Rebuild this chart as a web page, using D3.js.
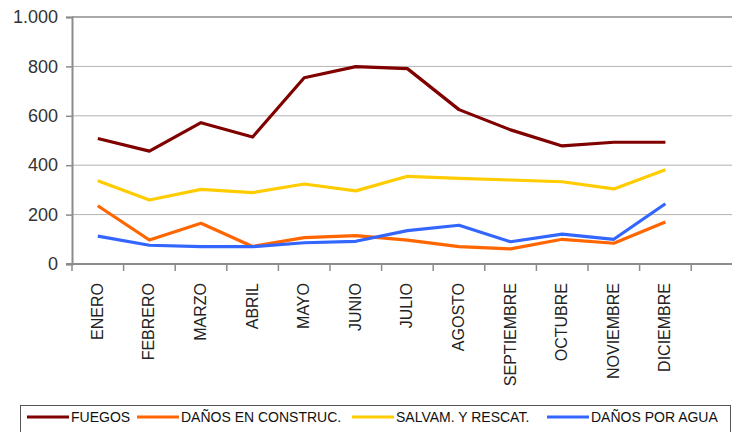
<!DOCTYPE html>
<html>
<head>
<meta charset="utf-8">
<script src="https://cdn.jsdelivr.net/npm/d3@7"></script>
<style>
  body { margin: 0; background: #fff; }
  svg { display: block; font-family: "Liberation Sans", Arial, sans-serif; }
</style>
</head>
<body>
<svg id="chart"></svg>
<script>
const size = { w: 732, h: 432 };
const plot = { l: 72, t: 17, b: 264, step: 51.6 };

// months (plus one empty slot at the end, as in the source chart)
const months = ["ENERO", "FEBRERO", "MARZO", "ABRIL", "MAYO", "JUNIO", "JULIO",
	"AGOSTO", "SEPTIEMBRE", "OCTUBRE", "NOVIEMBRE", "DICIEMBRE"];
const yTicks = [0, 200, 400, 600, 800, 1000];

const fuegos = [508, 457, 572, 514, 754, 799, 791, 625, 543, 478, 493, 493];
const construc = [236, 97, 165, 71, 107, 115, 97, 70, 61, 100, 84, 170];
const salvam = [337, 259, 302, 289, 324, 296, 355, 347, 340, 333, 304, 382];
const agua = [113, 76, 70, 70, 86, 92, 135, 157, 90, 121, 100, 244];

const series = [
	{ name: "FUEGOS", values: fuegos, color: "#800000" },
	{ name: "DAÑOS EN CONSTRUC.", values: construc, color: "#FF6600" },
	{ name: "SALVAM. Y RESCAT.", values: salvam, color: "#FFCC00" },
	{ name: "DAÑOS POR AGUA", values: agua, color: "#3366FF" },
];

const svg = d3.select("svg#chart").attr("width", size.w).attr("height", size.h);

const xDomain = months.concat([""]);
const x = d3.scaleBand()
	.domain(xDomain)
	.range([plot.l, plot.l + plot.step * xDomain.length]);
const y = d3.scaleLinear().domain([0, 1000]).range([plot.b, plot.t]);

// gridlines
svg.append("g")
	.selectAll("line")
	.data(yTicks.filter((d) => d > 0 && d < 1000))
	.join("line")
	.attr("x1", plot.l).attr("x2", size.w)
	.attr("y1", (d) => y(d)).attr("y2", (d) => y(d))
	.attr("stroke", "#b3b3b3").attr("stroke-width", 1);

// top border line
svg.append("line")
	.attr("x1", plot.l).attr("x2", size.w)
	.attr("y1", y(1000)).attr("y2", y(1000))
	.attr("stroke", "#8c8c8c").attr("stroke-width", 1.5);

// y axis
const yAxis = svg.append("g")
	.attr("transform", `translate(${plot.l}, 0)`)
	.call(d3.axisLeft(y).tickValues(yTicks).tickSize(6).tickPadding(8)
		.tickFormat((d) => d3.format(",")(d).replace(",", ".")));
yAxis.select(".domain").attr("stroke", "#8c8c8c").attr("stroke-width", 2);
yAxis.selectAll(".tick line").attr("stroke", "#8c8c8c").attr("stroke-width", 1.5);
yAxis.selectAll("text")
	.attr("font-size", 18).attr("fill", "#333")
	.attr("font-family", "Liberation Sans, Arial, sans-serif");

// x axis: ticks at band boundaries
const xg = svg.append("g");
xg.append("line")
	.attr("x1", plot.l - 6).attr("x2", size.w)
	.attr("y1", plot.b).attr("y2", plot.b)
	.attr("stroke", "#8c8c8c").attr("stroke-width", 2);
xg.selectAll("line.tick")
	.data(xDomain)
	.join("line")
	.classed("tick", true)
	.attr("x1", (d) => x(d)).attr("x2", (d) => x(d))
	.attr("y1", plot.b).attr("y2", plot.b + 7)
	.attr("stroke", "#8c8c8c").attr("stroke-width", 1.5);
xg.selectAll("text")
	.data(months)
	.join("text")
	.attr("transform", (d) => `translate(${x(d) + x.bandwidth() / 2 + 5}, ${plot.b + 19}) rotate(-90)`)
	.attr("text-anchor", "end")
	.attr("font-size", 16)
	.attr("fill", "#222")
	.text((d) => d);

// lines
const line = d3.line()
	.x((d, i) => x(months[i]) + x.bandwidth() / 2)
	.y((d) => y(d));

svg.append("g")
	.selectAll("path")
	.data(series)
	.join("path")
	.attr("d", (s) => line(s.values))
	.attr("fill", "none")
	.attr("stroke", (s) => s.color)
	.attr("stroke-width", 3.2)
	.attr("stroke-linejoin", "round");

// legend
const legend = svg.append("g");
legend.append("rect")
	.attr("x", 20.5).attr("y", 405.5)
	.attr("width", 710).attr("height", 40)
	.attr("fill", "#fff").attr("stroke", "#555").attr("stroke-width", 1);

const legendX = [27, 137, 352, 547];
const items = legend.selectAll("g")
	.data(series)
	.join("g")
	.attr("transform", (d, i) => `translate(${legendX[i]}, 417)`);
items.append("line")
	.attr("x1", 0).attr("x2", 42)
	.attr("stroke", (d) => d.color).attr("stroke-width", 3);
items.append("text")
	.attr("x", 44).attr("dy", "0.35em")
	.attr("font-size", 14).attr("fill", "#111")
	.text((d) => d.name);
</script>
</body>
</html>
